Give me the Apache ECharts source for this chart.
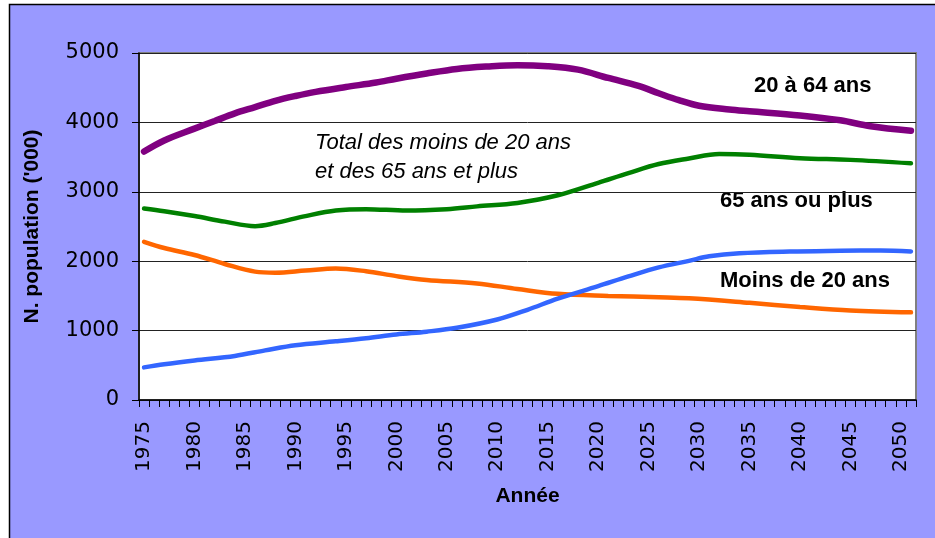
<!DOCTYPE html>
<html>
<head>
<meta charset="utf-8">
<script src="https://cdn.jsdelivr.net/npm/echarts@6/dist/echarts.min.js"></script>
<style>
  html, body { margin: 0; padding: 0; background: #fff; }
  #chart { width: 935px; height: 538px; }
</style>
</head>
<body>
<div id="chart"></div>
<script>
// axe des années (une catégorie par année)
const years = [];
for (let y = 1975; y <= 2051; y++) years.push(String(y));

// 20 à 64 ans
const adultYears  = [1975, 1977, 1980, 1982, 1984, 1986, 1988, 1990, 1992, 1995, 1998, 2000, 2003, 2006, 2009, 2012, 2015, 2018, 2021, 2024, 2026, 2028, 2030, 2033, 2035, 2040, 2044, 2047, 2051];
const adultValues = [3580, 3740, 3910, 4020, 4130, 4220, 4310, 4380, 4440, 4510, 4575, 4630, 4705, 4770, 4805, 4825, 4810, 4760, 4640, 4525, 4420, 4320, 4240, 4185, 4160, 4100, 4030, 3945, 3880];

// Total des moins de 20 ans et des 65 ans et plus
const totalYears  = [1975, 1977, 1980, 1983, 1986, 1988, 1991, 1994, 1997, 2001, 2005, 2008, 2012, 2016, 2020, 2023, 2026, 2029, 2032, 2035, 2040, 2045, 2051];
const totalValues = [2760, 2720, 2650, 2570, 2505, 2550, 2650, 2730, 2750, 2730, 2750, 2790, 2840, 2950, 3130, 3270, 3400, 3480, 3545, 3535, 3485, 3460, 3410];

// Moins de 20 ans
const youngYears  = [1975, 1977, 1980, 1983, 1986, 1988, 1991, 1994, 1997, 2000, 2003, 2008, 2012, 2016, 2021, 2026, 2029, 2035, 2040, 2045, 2051];
const youngValues = [2280, 2190, 2090, 1960, 1850, 1835, 1865, 1895, 1855, 1785, 1730, 1680, 1600, 1530, 1500, 1480, 1465, 1400, 1340, 1290, 1263];

// 65 ans ou plus
const oldYears  = [1975, 1977, 1980, 1984, 1987, 1990, 1994, 1997, 2000, 2003, 2006, 2010, 2013, 2016, 2020, 2023, 2026, 2029, 2031, 2034, 2039, 2044, 2048, 2051];
const oldValues = [470, 515, 570, 635, 715, 790, 845, 890, 945, 985, 1040, 1160, 1300, 1460, 1640, 1780, 1910, 2005, 2070, 2115, 2140, 2150, 2155, 2140];

const yTicks = [0, 1000, 2000, 3000, 4000, 5000];

function pairs(ys, vs) {
  return ys.map((y, i) => [String(y), vs[i]]);
}

function lineSeries(name, ys, vs, color, width) {
  return {
    name: name,
    type: "line",
    smooth: 0.35,
    showSymbol: false,
    symbol: "none",
    lineStyle: { color: color, width: width, cap: "round" },
    data: pairs(ys, vs),
  };
}

const labelFont = "'Liberation Sans', Arial, sans-serif";

const chart = echarts.init(document.getElementById("chart"));
chart.setOption({
  animation: false,
  backgroundColor: "#fff",
  graphic: [
    {
      type: "rect",
      z: -100,
      shape: { x: 9.5, y: 4.5, width: 940, height: 545 },
      style: { fill: "#9999FF", stroke: "#000", lineWidth: 1.5 },
    },
    {
      type: "text", left: 754, top: 75,
      style: { text: "20 à 64 ans", font: "bold 22px " + labelFont, fill: "#000" },
    },
    {
      type: "text", left: 720, top: 190,
      style: { text: "65 ans ou plus", font: "bold 22px " + labelFont, fill: "#000" },
    },
    {
      type: "text", left: 720, top: 270,
      style: { text: "Moins de 20 ans", font: "bold 22px " + labelFont, fill: "#000" },
    },
    {
      type: "text", left: 315, top: 128,
      style: {
        text: "Total des moins de 20 ans\net des 65 ans et plus",
        font: "italic 22px " + labelFont, lineHeight: 29, fill: "#000",
      },
    },
  ],
  grid: {
    left: 139, top: 53, width: 777, height: 347,
    show: true, backgroundColor: "#fff", borderColor: "#808080", borderWidth: 2,
  },
  xAxis: {
    type: "category",
    data: years,
    boundaryGap: true,
    name: "Année",
    nameLocation: "middle",
    nameGap: 86,
    nameTextStyle: { fontFamily: labelFont, fontWeight: "bold", fontSize: 21, color: "#000" },
    axisLine: { lineStyle: { color: "#000", width: 1.5 } },
    axisTick: { show: true, interval: 0, length: 7, lineStyle: { color: "#000", width: 1 } },
    axisLabel: {
      interval: 4, rotate: 90, margin: 21,
      fontFamily: "'DejaVu Sans', sans-serif", fontSize: 20, color: "#000",
    },
    splitLine: { show: false },
  },
  yAxis: {
    type: "value",
    min: yTicks[0],
    max: yTicks[yTicks.length - 1],
    interval: 1000,
    name: "N. population ('000)",
    nameLocation: "middle",
    nameGap: 96,
    nameTextStyle: { fontFamily: labelFont, fontWeight: "bold", fontSize: 21, color: "#000" },
    axisLine: { show: true, lineStyle: { color: "#000", width: 1.5 } },
    axisTick: { show: true, length: 7, lineStyle: { color: "#000", width: 1 } },
    axisLabel: {
      margin: 20,
      formatter: (v) => String(v),
      fontFamily: "'DejaVu Sans', sans-serif", fontSize: 21, color: "#000",
    },
    splitLine: { show: true, lineStyle: { color: "#222", width: 1 } },
  },
  series: [
    lineSeries("20 à 64 ans", adultYears, adultValues, "#800080", 6.5),
    lineSeries("Total des moins de 20 ans et des 65 ans et plus", totalYears, totalValues, "#008000", 4.5),
    lineSeries("Moins de 20 ans", youngYears, youngValues, "#FF6600", 4.5),
    lineSeries("65 ans ou plus", oldYears, oldValues, "#3366FF", 4.5),
  ],
});
</script>
</body>
</html>
